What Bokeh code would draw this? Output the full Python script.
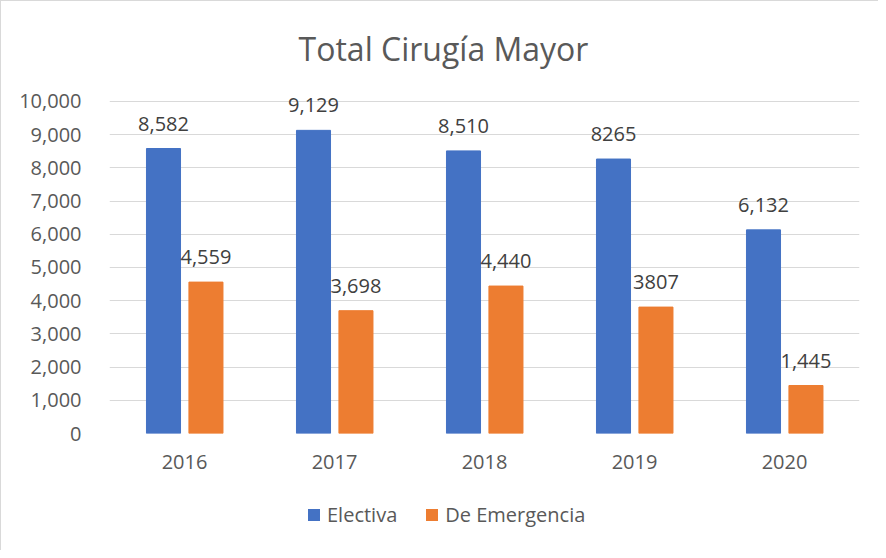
from bokeh.plotting import figure
from bokeh.layouts import column
from bokeh.models import (ColumnDataSource, FactorRange, Range1d, Legend, LegendItem,
                          NumeralTickFormatter, FixedTicker, Label)
from bokeh.transform import dodge
from bokeh.core.properties import value
from bokeh.embed import file_html
from bokeh.resources import INLINE

title_text = "Total Cirugía Mayor"
years = ["2016", "2017", "2018", "2019", "2020"]
electiva = [8582, 9129, 8510, 8265, 6132]
emergencia = [4559, 3698, 4440, 3807, 1445]
electiva_labels = ["8,582", "9,129", "8,510", "8265", "6,132"]
emergencia_labels = ["4,559", "3,698", "4,440", "3807", "1,445"]
y_ticks = [0, 1000, 2000, 3000, 4000, 5000, 6000, 7000, 8000, 9000, 10000]
series_names = ["Electiva", "De Emergencia"]
series_colors = ["#4472C4", "#ED7D31"]

FONT = "Open Sans"
TXT = "#595959"
BORDER = "1px solid #d9d9d9"

# ---- title strip ----
tf = figure(width=878, height=80, output_backend="svg", toolbar_location=None,
            x_axis_type=None, y_axis_type=None, min_border=0)
tf.styles = {"border-left": BORDER, "border-top": BORDER}
tf.outline_line_color = None
tf.add_layout(Label(x=334, y=33, x_units="screen", y_units="screen", text=title_text,
                    text_align="center", text_baseline="alphabetic", text_font=FONT,
                    text_font_size="32px", text_color=TXT))

# ---- main chart ----
src = ColumnDataSource(dict(years=years, electiva=electiva, emergencia=emergencia,
                            el_lab=electiva_labels, em_lab=emergencia_labels))

# frame extends ~0.6 grid step above the 10,000 line so the top data label is not clipped
p = figure(width=878, height=410, x_range=FactorRange(*years, range_padding=0),
           y_range=Range1d(0, 10600), output_backend="svg", toolbar_location=None,
           min_border_left=108, min_border_right=20, min_border_top=1, min_border_bottom=57)
p.styles = {"border-left": BORDER}

p.vbar(x=dodge("years", -0.14, range=p.x_range), top="electiva", width=0.227,
       source=src, fill_color=series_colors[0], line_color=series_colors[0])
p.vbar(x=dodge("years", 0.143, range=p.x_range), top="emergencia", width=0.227,
       source=src, fill_color=series_colors[1], line_color=series_colors[1])

p.text(x=dodge("years", -0.14, range=p.x_range), y="electiva", text="el_lab", source=src,
       text_align="center", text_baseline="alphabetic", y_offset=-25,
       text_font=value(FONT), text_font_size="20px", text_color="#404040")
p.text(x=dodge("years", 0.143, range=p.x_range), y="emergencia", text="em_lab", source=src,
       text_align="center", text_baseline="alphabetic", y_offset=-25,
       text_font=value(FONT), text_font_size="20px", text_color="#404040")

p.yaxis.ticker = FixedTicker(ticks=y_ticks)
p.yaxis.formatter = NumeralTickFormatter(format="0,0")
for ax in (p.xaxis[0], p.yaxis[0]):
    ax.axis_line_color = None
    ax.major_tick_line_color = None
    ax.minor_tick_line_color = None
    ax.major_label_text_font = FONT
    ax.major_label_text_font_size = "20px"
    ax.major_label_text_color = TXT
p.yaxis.major_label_standoff = 22
p.xaxis.major_label_standoff = 15

p.xgrid.grid_line_color = None
p.ygrid.grid_line_color = "#D9D9D9"
p.ygrid.grid_line_width = 1.2
p.outline_line_color = None

# ---- legend strip ----
lg = figure(width=878, height=60, output_backend="svg", toolbar_location=None,
            x_axis_type=None, y_axis_type=None, min_border=0)
lg.styles = {"border-left": BORDER}
lg.outline_line_color = None
items = []
for name, col in zip(series_names, series_colors):
    r = lg.vbar(x=[0], top=[0], width=0.5, fill_color=col, line_color=None)
    items.append(LegendItem(label=name, renderers=[r]))

legend = Legend(items=items, orientation="horizontal", location=(197, 22))
legend.label_text_font = FONT
legend.label_text_font_size = "20px"
legend.label_text_color = TXT
legend.glyph_width = 15
legend.glyph_height = 15
legend.label_standoff = 6
legend.spacing = 27
legend.padding = 0
legend.margin = 0
legend.border_line_color = None
legend.background_fill_alpha = 0
legend.label_height = 20
lg.add_layout(legend, "center")

layout = column(tf, p, lg, spacing=0)
open("out.html", "w").write(file_html(layout, INLINE))
